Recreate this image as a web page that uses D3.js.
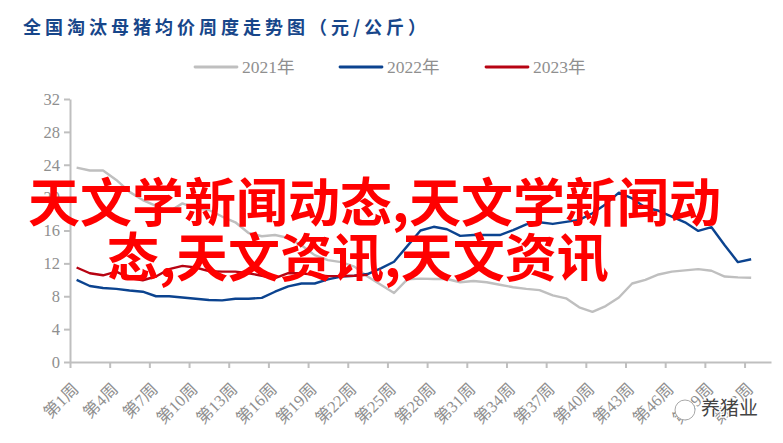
<!DOCTYPE html>
<html>

<head>
    <meta charset="utf-8">
    <title>全国淘汰母猪均价周度走势图</title>
    <script src="https://cdnjs.cloudflare.com/ajax/libs/d3/7.8.5/d3.min.js"></script>
    <style>
        html,
        body {
            margin: 0;
            padding: 0;
            background-color: white;
        }

        svg {
            display: block;
        }

        .axis text {
            font-family: "Liberation Serif", "Noto Sans CJK SC", serif;
            font-size: 16.5px;
            fill: #8f8f8f;
        }

        .axis line,
        .axis path {
            stroke: #bfbfbf;
            stroke-width: 2;
        }
    </style>
</head>

<body>
    <div id="chart"></div>

    <script>
        const chartTitle = "全国淘汰母猪均价周度走势图（元/公斤）";
        const overlayLines = ["天文学新闻动态,天文学新闻动", "态,天文资讯,天文资讯"];
        const watermark = "养猪业";

        const yTicks = [0, 4, 8, 12, 16, 20, 24, 28, 32];
        const weekTicks = [1, 4, 7, 10, 13, 16, 19, 22, 25, 28, 31, 34, 37, 40, 43, 46, 49, 52];
        const seriesNames = ["2021年", "2022年", "2023年"];
        const seriesColors = ["#bfbfbf", "#0b438f", "#b70312"];

        // one value per week
        const values2021 = [23.65, 23.3, 23.3, 22.15, 20.7, 19.7, 19.0, 18.3, 19.3, 18.7, 18.5, 17.7, 17.0, 15.7, 15.3, 15.45, 15.1, 14.2, 13.0, 12.4, 12.15, 11.6, 10.4, 9.4, 8.4, 10.05, 10.15, 10.1, 10.1, 9.7, 9.85, 9.7, 9.4, 9.1, 8.9, 8.75, 8.1, 7.75, 6.65, 6.1, 6.8, 7.85, 9.55, 10.0, 10.65, 11.0, 11.15, 11.3, 11.1, 10.4, 10.3, 10.25];
        const values2022 = [10.0, 9.25, 9.0, 8.9, 8.7, 8.55, 8.0, 8.0, 7.85, 7.7, 7.55, 7.5, 7.7, 7.7, 7.8, 8.55, 9.2, 9.55, 9.55, 10.05, 10.4, 10.5, 10.7, 11.4, 12.2, 14.1, 16.0, 16.45, 16.15, 15.35, 15.45, 15.45, 15.45, 16.05, 16.75, 17.0, 16.8, 17.05, 17.3, 18.1, 19.2, 20.6, 19.9, 18.8, 18.4, 17.7, 17.0, 15.95, 16.4, 14.2, 12.15, 12.5];
        const values2023 = [11.5, 10.8, 10.55, 11.0, 10.2, 9.95, 10.4, 11.3, 11.7, 11.5, 11.05, 11.0, 11.0, 10.8, 10.5, 10.2, 10.8, 10.8, 10.6, 10.45, 10.45, 10.5, 10.6];

        const allSeries = [values2021, values2022, values2023];

        const width = 783;
        const height = 443;

        const svg = d3.select("#chart")
            .append("svg")
            .attr("width", width)
            .attr("height", height);

        // each week takes the slot [w, w + 1], the ticks sit on the slot edges
        const xScale = d3.scaleLinear()
            .domain([1, 54])
            .range([70, 771]);

        const yScale = d3.scaleLinear()
            .domain([0, 32])
            .range([362, 99]);

        const yAxis = d3.axisLeft(yScale)
            .tickValues(yTicks)
            .tickSize(6)
            .tickSizeOuter(0)
            .tickPadding(4);

        svg.append("g")
            .attr("class", "axis")
            .attr("transform", "translate(70, 0)")
            .call(yAxis);

        const xAxis = d3.axisBottom(xScale)
            .tickValues(weekTicks)
            .tickFormat(d => "第" + d + "周")
            .tickSize(6)
            .tickSizeOuter(0);

        svg.append("g")
            .attr("class", "axis")
            .attr("transform", "translate(0, 362)")
            .call(xAxis)
            .selectAll("text")
            .attr("text-anchor", "end")
            .attr("dy", "0.35em")
            .attr("transform", "translate(5, 24) rotate(-45)")
            .attr("y", 0)
            .attr("x", 0);

        const line = d3.line()
            .x((d, i) => xScale(i + 1.5))
            .y(d => yScale(d));

        svg.selectAll(".series")
            .data(allSeries)
            .enter()
            .append("path")
            .attr("class", "series")
            .attr("d", line)
            .attr("fill", "none")
            .attr("stroke", (d, i) => seriesColors[i])
            .attr("stroke-width", 2.4)
            .attr("stroke-linejoin", "round");

        // title
        svg.append("text")
            .attr("x", 23)
            .attr("y", 34)
            .text(chartTitle)
            .style("font-family", "'Noto Sans CJK SC', sans-serif")
            .style("font-size", "18px")
            .style("font-weight", "700")
            .style("letter-spacing", "4px")
            .style("fill", "#17468a");

        // legend
        const legendX = [195, 340, 486];

        const legend = svg.selectAll(".legend")
            .data(seriesNames)
            .enter()
            .append("g")
            .attr("class", "legend")
            .attr("transform", (d, i) => "translate(" + legendX[i] + ", 67)");

        legend.append("line")
            .attr("x1", 0)
            .attr("x2", 42)
            .attr("stroke", (d, i) => seriesColors[i])
            .attr("stroke-width", 2.8)
            .attr("stroke-linecap", "round");

        legend.append("text")
            .attr("x", 47)
            .attr("y", 6)
            .text(d => d)
            .style("font-family", "'Liberation Serif', 'Noto Sans CJK SC', serif")
            .style("font-size", "17.5px")
            .style("fill", "#8f8f8f");

        // big red text laid over the chart
        const overlayX = [28, 107];
        const overlayY = [222, 277];

        svg.selectAll(".overlay")
            .data(overlayLines)
            .enter()
            .append("text")
            .attr("class", "overlay")
            .attr("x", (d, i) => overlayX[i])
            .attr("y", (d, i) => overlayY[i])
            .text(d => d)
            .style("font-family", "'Noto Sans CJK SC', sans-serif")
            .style("font-size", "52px")
            .style("font-weight", "700")
            .style("fill", "#ff0000");

        // bottom right mark
        const mark = svg.append("g");

        mark.append("circle")
            .attr("cx", 685)
            .attr("cy", 410)
            .attr("r", 10)
            .attr("fill", "white")
            .attr("stroke", "#a8a8a8")
            .attr("stroke-width", 1);

        mark.append("text")
            .attr("x", 701)
            .attr("y", 415)
            .text(watermark)
            .style("font-family", "'Noto Sans CJK SC', sans-serif")
            .style("font-size", "19px")
            .style("fill", "#444444")
            .style("stroke", "white")
            .style("stroke-width", "2.5px")
            .style("paint-order", "stroke");
    </script>
</body>

</html>
